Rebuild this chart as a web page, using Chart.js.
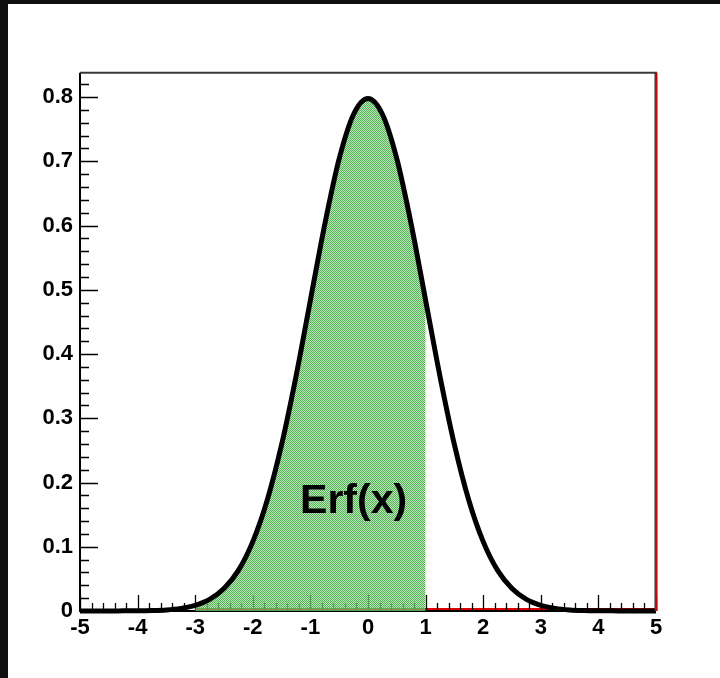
<!DOCTYPE html>
<html>
<head>
<meta charset="utf-8">
<script src="https://cdn.jsdelivr.net/npm/chart.js@4.4.0/dist/chart.umd.min.js"></script>
<style>
  html, body { margin: 0; padding: 0; background: #0f0f0f; width: 720px; height: 678px; overflow: hidden; }
  #wrap { position: absolute; left: 8px; top: 4px; width: 712px; height: 674px; background: #fff; }
  canvas { display: block; }
</style>
</head>
<body>
<div id="wrap"><canvas id="c" width="712" height="674"></canvas></div>
<script>
// ---- data ----
const xValues = [-5, -4.75, -4.5, -4.25, -4, -3.75, -3.5, -3.25, -3, -2.75, -2.5, -2.25, -2, -1.75, -1.5, -1.25, -1, -0.75, -0.5, -0.25,
                 0, 0.25, 0.5, 0.75, 1, 1.25, 1.5, 1.75, 2, 2.25, 2.5, 2.75, 3, 3.25, 3.5, 3.75, 4, 4.25, 4.5, 4.75, 5];
const yValues = [0.0000, 0.0001, 0.0001, 0.0002, 0.0003, 0.0007, 0.0017, 0.0041, 0.0089, 0.0181, 0.0350, 0.0632, 0.1080, 0.1725, 0.2590, 0.3652, 0.4839, 0.6022, 0.7041, 0.7733,
                 0.7979, 0.7733, 0.7041, 0.6022, 0.4839, 0.3652, 0.2590, 0.1725, 0.1080, 0.0632, 0.0350, 0.0181, 0.0089, 0.0041, 0.0017, 0.0007, 0.0003, 0.0002, 0.0001, 0.0001, 0.0000];
const fillStart = -3;
const fillEnd = 1;
const xTicks = [-5, -4, -3, -2, -1, 0, 1, 2, 3, 4, 5];
const xTickLabels = ['-5', '-4', '-3', '-2', '-1', '0', '1', '2', '3', '4', '5'];
const yTicks = [0, 0.1, 0.2, 0.3, 0.4, 0.5, 0.6, 0.7, 0.8];
const yTickLabels = ['0', '0.1', '0.2', '0.3', '0.4', '0.5', '0.6', '0.7', '0.8'];
const xMin = -5, xMax = 5, yMin = 0, yMax = 0.838;
const labelText = 'Erf(x)';
const labelPos = { x: -1.18, y: 0.1526 };

const curvePoints = xValues.map((x, i) => ({ x: x, y: yValues[i] }));
const fillPoints = curvePoints.filter(p => p.x >= fillStart && p.x <= fillEnd);

// dithered green pattern
function makePattern(ctx) {
  const pc = document.createElement('canvas');
  pc.width = 2; pc.height = 2;
  const p = pc.getContext('2d');
  p.fillStyle = 'rgb(78,176,78)';
  p.fillRect(0, 0, 1, 1); p.fillRect(1, 1, 1, 1);
  p.fillStyle = 'rgba(150,215,150,0.6)';
  p.fillRect(1, 0, 1, 1); p.fillRect(0, 1, 1, 1);
  return ctx.createPattern(pc, 'repeat');
}

const ctx = document.getElementById('c').getContext('2d');
const tickFont = { family: "'Liberation Sans', Arial, sans-serif", size: 22, weight: 'bold' };

const axesPlugin = {
  id: 'rootAxes',
  beforeDatasetsDraw(chart) {
    const c = chart.ctx, xs = chart.scales.x, ys = chart.scales.y, a = chart.chartArea;
    c.save();
    // red line along zero from fill start to right edge
    c.strokeStyle = '#e00000';
    c.lineWidth = 2;
    c.beginPath();
    c.moveTo(xs.getPixelForValue(fillStart), a.bottom - 2);
    c.lineTo(xs.getPixelForValue(xMax), a.bottom - 2);
    c.stroke();
    // ticks
    c.strokeStyle = '#000';
    c.lineWidth = 1.3;
    c.beginPath();
    for (let k = 0; k <= Math.round((xMax - xMin) / 0.2); k++) {
      const v = xMin + k * 0.2;
      const major = Math.abs(v - Math.round(v)) < 1e-6;
      const px = Math.round(xs.getPixelForValue(v)) + 0.5;
      c.moveTo(px, a.bottom);
      c.lineTo(px, a.bottom - (major ? 16 : 8));
    }
    for (let k = 0; k * 0.02 <= yMax + 1e-9; k++) {
      const v = k * 0.02;
      const major = k % 5 === 0;
      const py = Math.round(ys.getPixelForValue(v)) + 0.5;
      c.moveTo(a.left, py);
      c.lineTo(a.left + (major ? 18 : 9), py);
    }
    c.stroke();
    // left and bottom axis lines
    c.lineWidth = 2;
    c.beginPath();
    c.moveTo(a.left, a.top);
    c.lineTo(a.left, a.bottom);
    c.lineTo(a.right, a.bottom);
    c.stroke();
    c.restore();
  },
  afterDatasetsDraw(chart) {
    const c = chart.ctx, xs = chart.scales.x, ys = chart.scales.y, a = chart.chartArea;
    c.save();
    // top frame
    c.strokeStyle = '#3a3a3a';
    c.lineWidth = 2;
    c.beginPath();
    c.moveTo(a.left, a.top);
    c.lineTo(a.right + 1, a.top);
    c.stroke();
    // right red frame
    c.strokeStyle = '#333';
    c.lineWidth = 3;
    c.beginPath();
    c.moveTo(a.right, a.top);
    c.lineTo(a.right, a.bottom);
    c.stroke();
    c.strokeStyle = '#e00000';
    c.lineWidth = 1.6;
    c.beginPath();
    c.moveTo(a.right, a.top);
    c.lineTo(a.right, a.bottom);
    c.stroke();
    // label
    c.fillStyle = '#000';
    c.font = "bold 41px 'Liberation Sans', Arial, sans-serif";
    c.textAlign = 'left';
    c.textBaseline = 'alphabetic';
    c.fillText(labelText, xs.getPixelForValue(labelPos.x), ys.getPixelForValue(labelPos.y));
    c.restore();
  }
};

new Chart(ctx, {
  type: 'line',
  data: {
    datasets: [
      {
        data: fillPoints,
        borderWidth: 0,
        borderColor: 'rgba(0,0,0,0)',
        backgroundColor: makePattern(ctx),
        fill: 'origin',
        pointRadius: 0,
        cubicInterpolationMode: 'monotone',
        order: 2
      },
      {
        data: curvePoints,
        borderColor: '#000',
        borderWidth: 5,
        fill: false,
        pointRadius: 0,
        cubicInterpolationMode: 'monotone',
        clip: false,
        order: 1
      }
    ]
  },
  plugins: [axesPlugin],
  options: {
    responsive: false,
    animation: false,
    events: [],
    layout: { padding: { top: 68.7, right: 64, left: 0, bottom: 0 } },
    plugins: { legend: { display: false }, tooltip: { enabled: false } },
    scales: {
      x: {
        type: 'linear',
        min: xMin, max: xMax,
        afterBuildTicks: s => { s.ticks = xTicks.map(v => ({ value: v })); },
        afterFit: s => { s.height = 67; },
        grid: { display: false, drawTicks: false },
        border: { display: false },
        ticks: {
          font: tickFont, color: '#000', padding: 4, maxRotation: 0, autoSkip: false,
          callback: (v, i) => xTickLabels[i]
        }
      },
      y: {
        type: 'linear',
        min: yMin, max: yMax,
        afterBuildTicks: s => { s.ticks = yTicks.map(v => ({ value: v })); },
        afterFit: s => { s.width = 72; },
        grid: { display: false, drawTicks: false },
        border: { display: false },
        ticks: {
          font: tickFont, color: '#000', padding: 7, autoSkip: false,
          callback: (v, i) => yTickLabels[i]
        }
      }
    }
  }
});
</script>
</body>
</html>
